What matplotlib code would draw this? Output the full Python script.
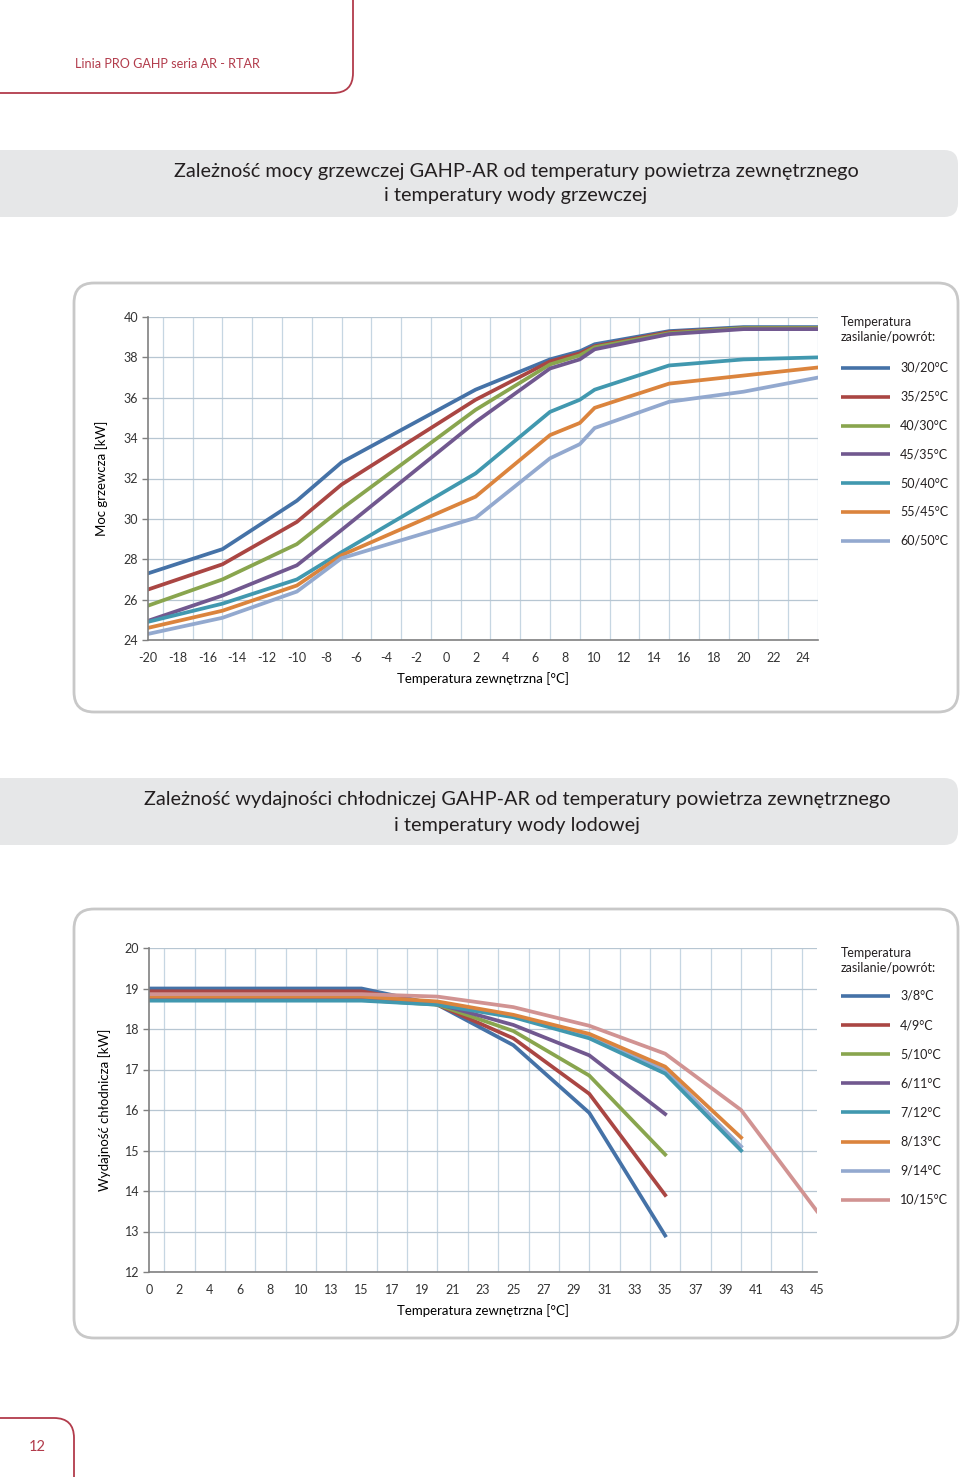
import matplotlib
matplotlib.use('Agg')
import matplotlib.pyplot as plt
from matplotlib.patches import FancyBboxPatch

# --- dane: moc grzewcza ---
heat_x = [-20, -15, -10, -7, 2, 7, 9, 10, 15, 20, 25]
heat_labels = ['30/20°C', '35/25°C', '40/30°C', '45/35°C', '50/40°C', '55/45°C', '60/50°C']
heat_30_20 = [27.3, 28.5, 30.9, 32.8, 36.4, 37.9, 38.3, 38.65, 39.3, 39.5, 39.5]
heat_35_25 = [26.5, 27.75, 29.85, 31.7, 35.9, 37.8, 38.2, 38.55, 39.25, 39.45, 39.45]
heat_40_30 = [25.7, 27.0, 28.75, 30.5, 35.4, 37.65, 38.1, 38.5, 39.2, 39.45, 39.45]
heat_45_35 = [24.95, 26.2, 27.7, 29.45, 34.8, 37.45, 37.9, 38.4, 39.15, 39.4, 39.4]
heat_50_40 = [24.9, 25.8, 27.0, 28.35, 32.25, 35.3, 35.9, 36.4, 37.6, 37.9, 38.0]
heat_55_45 = [24.6, 25.45, 26.7, 28.2, 31.1, 34.15, 34.75, 35.5, 36.7, 37.1, 37.5]
heat_60_50 = [24.3, 25.1, 26.4, 28.05, 30.05, 33.0, 33.7, 34.5, 35.8, 36.3, 37.0]
heat_series = [heat_30_20, heat_35_25, heat_40_30, heat_45_35, heat_50_40, heat_55_45, heat_60_50]
heat_yticks = [24, 26, 28, 30, 32, 34, 36, 38, 40]
heat_xticks = list(range(-20, 25, 2))

# --- dane: wydajnosc chlodnicza ---
cool_categories = list(range(0, 11)) + list(range(12, 46))
cool_x = [0, 15, 20, 25, 30, 35, 40, 45]
cool_labels = ['3/8°C', '4/9°C', '5/10°C', '6/11°C', '7/12°C', '8/13°C', '9/14°C', '10/15°C']
cool_3_8 = [19.0, 19.0, 18.6, 17.6, 15.93, 12.9]
cool_4_9 = [18.93, 18.93, 18.6, 17.77, 16.4, 13.9]
cool_5_10 = [18.72, 18.72, 18.6, 17.95, 16.85, 14.9]
cool_6_11 = [18.76, 18.76, 18.62, 18.1, 17.35, 15.9]
cool_7_12 = [18.7, 18.7, 18.6, 18.29, 17.77, 16.9, 15.0]
cool_8_13 = [18.8, 18.8, 18.68, 18.35, 17.88, 17.07, 15.32]
cool_9_14 = [18.75, 18.75, 18.64, 18.32, 17.82, 16.98, 15.1]
cool_10_15 = [18.86, 18.86, 18.8, 18.54, 18.08, 17.39, 16.0, 13.5]
cool_series = [cool_3_8, cool_4_9, cool_5_10, cool_6_11, cool_7_12, cool_8_13, cool_9_14, cool_10_15]
cool_yticks = list(range(12, 21))

colors = ['#4572A7', '#AA4643', '#89A54E', '#71588F', '#4198AF', '#DB843D', '#93A9CF', '#D19392']

W, H = 960, 1477
RED = '#b23b4b'
plt.rcParams['font.family'] = ['Lato', 'DejaVu Sans']
plt.rcParams['axes.unicode_minus'] = False

fig = plt.figure(figsize=(W / 100, H / 100), dpi=100)

# warstwa strony w pikselach
page = fig.add_axes([0, 0, 1, 1])
page.set_xlim(0, W)
page.set_ylim(H, 0)
page.axis('off')

def box(x0, y0, x1, y1, r, **kw):
 p = FancyBboxPatch((x0 + r, y0 + r), x1 - x0 - 2 * r, y1 - y0 - 2 * r,
                    boxstyle='round,pad=%d' % r, **kw)
 page.add_patch(p)

# naglowek i numer strony
box(-40, -40, 353, 93, 20, fc='none', ec=RED, lw=1.3)
page.text(75, 64, 'Linia PRO GAHP seria AR - RTAR', color=RED, fontsize=9.1, va='center')
box(-40, 1418, 74, 1520, 20, fc='none', ec=RED, lw=1.3)
page.text(37, 1447, '12', color=RED, fontsize=10.5, va='center', ha='center')

# paski tytulowe
TS = 14.3
box(-40, 150, 958, 217, 14, fc='#e6e7e8', ec='none')
page.text(516, 171, 'Zależność mocy grzewczej GAHP-AR od temperatury powietrza zewnętrznego',
          fontsize=TS, ha='center', va='center', color='#231f20')
page.text(516, 196, 'i temperatury wody grzewczej', fontsize=TS, ha='center', va='center', color='#231f20')
box(-40, 778, 958, 845, 14, fc='#e6e7e8', ec='none')
page.text(517, 800, 'Zależność wydajności chłodniczej GAHP-AR od temperatury powietrza zewnętrznego',
          fontsize=TS, ha='center', va='center', color='#231f20')
page.text(517, 825, 'i temperatury wody lodowej', fontsize=TS, ha='center', va='center', color='#231f20')

# ramki wykresow
box(74, 283, 958, 712, 20, fc='white', ec='#c8c8c8', lw=2)
box(74, 909, 958, 1338, 20, fc='white', ec='#c8c8c8', lw=2)


def make_axes(x0, y0, x1, y1):
 ax = fig.add_axes([x0 / W, 1 - y1 / H, (x1 - x0) / W, (y1 - y0) / H])
 ax.set_facecolor('none')
 for s in ['top', 'right']:
  ax.spines[s].set_visible(False)
 for s in ['left', 'bottom']:
  ax.spines[s].set_color('#808080')
  ax.spines[s].set_linewidth(1.2)
 ax.tick_params(axis='y', length=4, width=1, color='#808080', pad=3, labelsize=9, labelcolor='#333333')
 ax.tick_params(axis='x', length=0, pad=9, labelsize=9, labelcolor='#333333')
 ax.tick_params(which='minor', length=0)
 ax.set_axisbelow(True)
 return ax


def legend(y_title, y_first, step, labels):
 page.text(841, y_title, 'Temperatura\nzasilanie/powrót:', fontsize=9,
           va='top', linespacing=1.3, color='#231f20')
 for i, lab in enumerate(labels):
  y = y_first + i * step
  page.plot([841, 890], [y, y], color=colors[i], lw=2.6, solid_capstyle='butt')
  page.text(900, y, lab, fontsize=9, va='center', color='#231f20')


# --- wykres 1 ---
ax1 = make_axes(148, 317, 818, 640)
ax1.set_xlim(-20, 25)
ax1.set_ylim(24, 40)
ax1.set_xticks(heat_xticks)
ax1.set_xticks(range(-20, 26), minor=True)
ax1.set_yticks(heat_yticks)
ax1.grid(True, which='minor', axis='x', color='#c6d6e2', lw=0.9)
ax1.grid(True, which='major', axis='y', color='#b7c6d2', lw=0.9)
for vals, c in zip(heat_series, colors):
 ax1.plot(heat_x, vals, color=c, lw=2.7, solid_joinstyle='miter')
page.text(102, 478, 'Moc grzewcza [kW]', rotation=90, fontsize=9.5, ha='center', va='center')
page.text(483, 679, 'Temperatura zewnętrzna [°C]', fontsize=9.5, ha='center', va='center')
legend(316, 368, 28.8, heat_labels)

# --- wykres 2 ---
ax2 = make_axes(149, 948, 817, 1272)
ax2.set_xlim(0, len(cool_categories) - 1)
ax2.set_ylim(12, 20)
ax2.set_xticks(range(0, len(cool_categories), 2))
ax2.set_xticklabels([str(c) for c in cool_categories[::2]])
ax2.set_xticks(range(len(cool_categories)), minor=True)
ax2.set_yticks(cool_yticks)
ax2.grid(True, which='minor', axis='x', color='#c6d6e2', lw=0.9)
ax2.grid(True, which='major', axis='y', color='#b7c6d2', lw=0.9)
for i, (vals, c) in enumerate(zip(cool_series, colors)):
 xs = [cool_categories.index(t) for t in cool_x[:len(vals)]]
 z = 1.5 if cool_labels[i] == '9/14°C' else 2
 ax2.plot(xs, vals, color=c, lw=2.7, zorder=z)
page.text(105, 1110, 'Wydajność chłodnicza [kW]', rotation=90, fontsize=9.5, ha='center', va='center')
page.text(483, 1311, 'Temperatura zewnętrzna [°C]', fontsize=9.5, ha='center', va='center')
legend(947, 996, 29.1, cool_labels)

fig.savefig('out.png', dpi=100)
